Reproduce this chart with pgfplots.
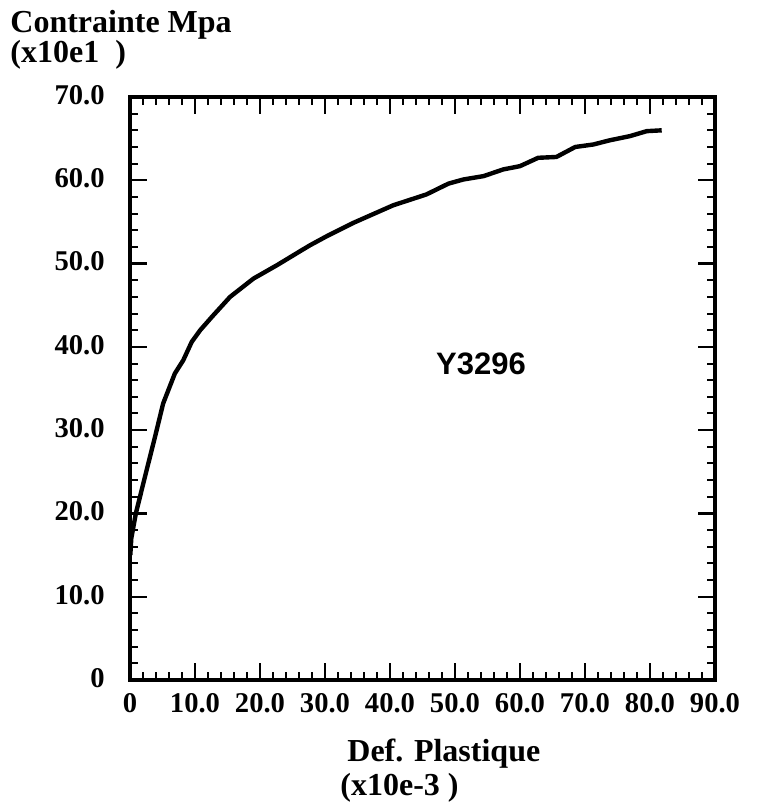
\documentclass[border=0pt]{standalone}
\usepackage{fontspec}
\setmainfont{Liberation Serif}
\newfontfamily\labelsans{Liberation Sans}
\usepackage{pgfplots}
\pgfplotsset{compat=1.18}

\begin{document}
\begin{tikzpicture}
\begin{axis}[
  at={(0,0)}, anchor=south west,
  scale only axis, width=292.5pt, height=291.5pt,
  xmin=0, xmax=90, ymin=0, ymax=70,
  xtick={0,10,...,90}, ytick={0,10,...,70},
  xticklabels={\textbf{0},\textbf{10.0},\textbf{20.0},\textbf{30.0},\textbf{40.0},\textbf{50.0},\textbf{60.0},\textbf{70.0},\textbf{80.0},\textbf{90.0}},
  yticklabels={\textbf{0},\textbf{10.0},\textbf{20.0},\textbf{30.0},\textbf{40.0},\textbf{50.0},\textbf{60.0},\textbf{70.0}},
  minor tick num=4,
  xtick pos=both, ytick pos=both,
  tick align=inside,
  major tick length=8.5pt, minor tick length=4pt,
  axis line style={line width=1.6pt},
  major tick style={line width=1.2pt, black},
  minor tick style={line width=1pt, black},
  ticklabel style={font=\fontsize{14.3}{16}\selectfont\bfseries, inner sep=0pt},
  xticklabel style={anchor=north, yshift=-6.5pt},
  yticklabel style={anchor=east, xshift=-12.5pt, yshift=1pt},
  clip=false,
]
\addplot[black, line width=2.2pt, line join=round] coordinates {
  (0.05,15.0) (0.2,17.0) (0.9,20.0) (2.3,24.4) (3.85,29.2) (5.1,33.2)
  (6.9,36.8) (8.2,38.4) (9.5,40.6) (10.8,42.0) (12.6,43.6) (15.4,46.0)
  (19.0,48.2) (22.6,49.8) (26.2,51.5) (27.7,52.2) (30.3,53.3) (34.4,54.9)
  (40.5,57.0) (45.6,58.3) (49.0,59.6) (51.3,60.1) (54.4,60.5) (57.4,61.3)
  (60.0,61.7) (62.8,62.7) (65.6,62.8) (68.5,64.0) (71.3,64.3) (73.8,64.8)
  (76.9,65.3) (79.5,65.9) (81.8,66.0)
};
\node[font=\labelsans\fontsize{15.5}{18}\selectfont\bfseries] at (axis cs:54.0,37.9) {Y3296};
\end{axis}
\begin{scope}[every node/.style={inner sep=0pt, font=\fontsize{16}{19}\selectfont\bfseries}]
\node[anchor=base west] at (-60pt,324pt) {Contrainte Mpa};
\node[anchor=base west] at (-60pt,309pt) {(x10e1~~)};
\node[anchor=base west] at (108.5pt,-40.5pt) {Def. Plastique};
\node[anchor=base west] at (105pt,-57.5pt) {(x10e-3 )};
\end{scope}
\pgfresetboundingbox
\path (-65pt,-65.5pt) rectangle (316.5pt,340pt);
\end{tikzpicture}
\end{document}
